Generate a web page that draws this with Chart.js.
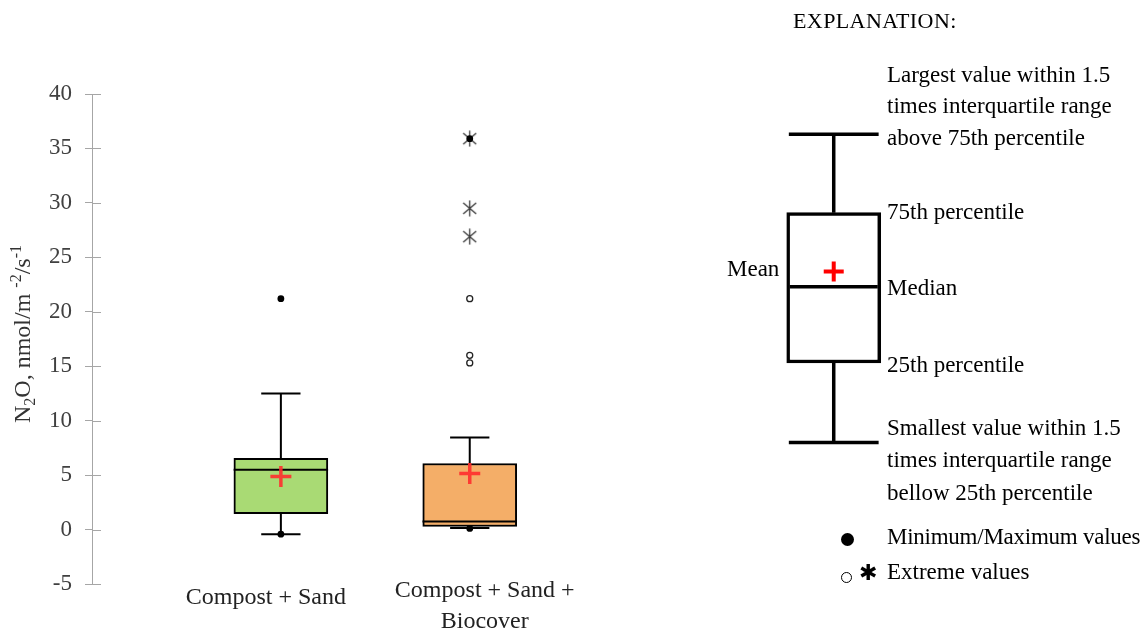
<!DOCTYPE html>
<html>
<head>
<meta charset="utf-8">
<script src="https://cdn.jsdelivr.net/npm/chart.js@4.4.1/dist/chart.umd.min.js"></script>
<style>
html,body{margin:0;padding:0;background:#fff;}
#wrap{position:relative;width:1143px;height:632px;overflow:hidden;background:#fff;font-family:"Liberation Serif","Times New Roman",serif;}
#main{position:absolute;left:0;top:0;width:700px;height:632px;}
#expl{position:absolute;left:700px;top:0;width:443px;height:632px;}
.t{position:absolute;white-space:nowrap;font-size:23px;line-height:31px;color:#000;}
.dot{position:absolute;border-radius:50%;box-sizing:border-box;}
</style>
</head>
<body>
<div id="wrap">
  <div id="main"><canvas id="c1"></canvas></div>
  <div id="expl"><canvas id="c2"></canvas></div>

  <div class="t" style="left:793px;top:5px;font-size:22px;letter-spacing:0.4px">EXPLANATION:</div>
  <div class="t" style="left:887px;top:59px">Largest value within 1.5</div>
  <div class="t" style="left:887px;top:90px">times interquartile range</div>
  <div class="t" style="left:887px;top:122px">above 75th percentile</div>
  <div class="t" style="left:887px;top:196px">75th percentile</div>
  <div class="t" style="left:727px;top:253px">Mean</div>
  <div class="t" style="left:887px;top:272px">Median</div>
  <div class="t" style="left:887px;top:349px">25th percentile</div>
  <div class="t" style="left:887px;top:412px">Smallest value within 1.5</div>
  <div class="t" style="left:887px;top:444px">times interquartile range</div>
  <div class="t" style="left:887px;top:477px">bellow 25th percentile</div>
  <div class="dot" style="left:841px;top:533px;width:13px;height:13px;background:#000"></div>
  <div class="t" style="left:887px;top:521px;letter-spacing:-0.25px">Minimum/Maximum values</div>
  <div class="dot" style="left:841px;top:572px;width:11px;height:11px;border:1.5px solid #000;background:#fff"></div>
  <div class="t" style="left:859px;top:557px;font-family:'DejaVu Sans';font-size:22px;line-height:31px">✱</div>
  <div class="t" style="left:887px;top:556px">Extreme values</div>
</div>

<script>
// ---------------- data ----------------
const categories = ['Compost + Sand', ['Compost + Sand +', 'Biocover']];
const catPos = [1, 2];
const q1 = [1.47, 0.28];
const median = [5.5, 0.74];
const q3 = [6.53, 6.07];
const whiskerLow = [-0.42, 0.15];
const whiskerHigh = [12.5, 8.46];
const means = [4.87, 5.15];
const minValues = [-0.42, 0.10];
const maxValues = [21.2, 35.9];
const extremeCircles = [[], [21.2, 16.0, 15.3]];
const extremeStars = [[], [35.9, 29.5, 26.9]];
const boxColors = ['#a9da74', '#f4ae68'];
const yMin = -5, yMax = 40, yStep = 5;
// explanation schematic: [low whisker, q1, median, q3, high whisker], mean
const explStats = [8.0, 15.3, 22.3, 29.1, 36.3];
const explMean = 23.7;

// ---------------- style constants ----------------
Chart.defaults.font.family = "'Liberation Serif', 'Times New Roman', serif";
const HALF_BOX = 0.25;
const LABEL_SHIFT_PX = [-15, 15];   // category label offset from box centre, as in the original

function whiskerPoints(x, lo, lowQ, highQ, hi, halfCap) {
  return [
    {x, y: highQ}, {x, y: hi}, {x, y: null},
    {x: x - halfCap, y: hi}, {x: x + halfCap, y: hi}, {x, y: null},
    {x, y: lowQ}, {x, y: lo}, {x, y: null},
    {x: x - halfCap, y: lo}, {x: x + halfCap, y: lo}, {x, y: null}
  ];
}
function medianPoints(x, m) {
  return [{x: x - HALF_BOX, y: m}, {x: x + HALF_BOX, y: m}, {x, y: null}];
}
function makeAsterisk() {
  const w = 15, h = 17;
  const c = document.createElement('canvas');
  c.width = w; c.height = h;
  const g = c.getContext('2d');
  g.strokeStyle = '#3a3a3a'; g.lineWidth = 1.3;
  g.beginPath();
  g.moveTo(w / 2, 0.5); g.lineTo(w / 2, h - 0.5);
  g.moveTo(1, h * 0.18); g.lineTo(w - 1, h * 0.82);
  g.moveTo(1, h * 0.82); g.lineTo(w - 1, h * 0.18);
  g.stroke();
  return c;
}
const asterisk = makeAsterisk();

const whiskerData = [], medianData = [], meanData = [], minMaxData = [], circleData = [], starData = [], boxData = [];
catPos.forEach((x, i) => {
  boxData.push({x, y: [q1[i], q3[i]]});
  whiskerData.push(...whiskerPoints(x, whiskerLow[i], q1[i], q3[i], whiskerHigh[i], 0.104));
  medianData.push(...medianPoints(x, median[i]));
  meanData.push({x, y: means[i]});
  minMaxData.push({x, y: minValues[i]}, {x, y: maxValues[i]});
  extremeCircles[i].forEach(v => circleData.push({x, y: v}));
  extremeStars[i].forEach(v => starData.push({x, y: v}));
});

// ---------------- plugin: inner y ticks, category labels, y title ----------------
const axisDecor = {
  id: 'axisDecor',
  afterDraw(chart) {
    const {ctx, chartArea} = chart;
    const y = chart.scales.y, x = chart.scales.x;
    ctx.save();
    ctx.strokeStyle = '#a6a6a6';
    ctx.lineWidth = 1;
    y.ticks.forEach(t => {
      const py = Math.round(y.getPixelForValue(t.value)) + 0.5;
      ctx.beginPath();
      ctx.moveTo(chartArea.left, py);
      ctx.lineTo(chartArea.left + 9, py);
      ctx.stroke();
    });
    // category labels under the boxes
    ctx.font = "24px 'Liberation Serif'";
    ctx.fillStyle = '#222';
    ctx.textAlign = 'center';
    ctx.textBaseline = 'middle';
    catPos.forEach((v, i) => {
      const lines = [].concat(categories[i]);
      const px = x.getPixelForValue(v) + LABEL_SHIFT_PX[i];
      let cy = x.top + (lines.length === 1 ? 14 : 7);
      lines.forEach(l => { ctx.fillText(l, px, cy); cy += 31; });
    });
    // rotated axis title with sub/superscripts
    const big = "24px 'Liberation Serif'", small = "16px 'Liberation Serif'";
    const parts = [['N', 0, big], ['2', 5, small], ['O, nmol/m ', 0, big], ['-2', -9, small], ['/s', 0, big], ['-1', -9, small]];
    let total = 0;
    parts.forEach(p => { ctx.font = p[2]; p.push(ctx.measureText(p[0]).width); total += p[3]; });
    ctx.translate(22, 334);
    ctx.rotate(-Math.PI / 2);
    ctx.fillStyle = '#333';
    ctx.textAlign = 'left';
    ctx.textBaseline = 'alphabetic';
    let cx = -total / 2;
    parts.forEach(p => {
      ctx.font = p[2];
      ctx.fillText(p[0], cx, 8 + p[1]);
      cx += p[3];
    });
    ctx.restore();
  }
};

// ---------------- main chart ----------------
new Chart(document.getElementById('c1'), {
  type: 'bar',
  data: {
    datasets: [
      {type: 'bar', data: boxData, backgroundColor: boxColors, borderColor: '#000', borderWidth: 2,
       borderSkipped: false, barThickness: 94, order: 10},
      {type: 'line', data: whiskerData, borderColor: '#000', borderWidth: 2, pointRadius: 0,
       spanGaps: false, fill: false, tension: 0, order: 9},
      {type: 'line', data: medianData, borderColor: '#000', borderWidth: 2, pointRadius: 0,
       spanGaps: false, fill: false, tension: 0, order: 8},
      {type: 'scatter', data: starData, pointStyle: asterisk, pointRadius: 7, order: 4},
      {type: 'scatter', data: circleData, pointStyle: 'circle', pointRadius: 3, borderWidth: 1.3,
       borderColor: '#222', backgroundColor: '#fff', order: 3},
      {type: 'scatter', data: minMaxData, pointStyle: 'circle', pointRadius: 3.4, borderWidth: 0,
       backgroundColor: '#000', order: 2},
      {type: 'scatter', data: meanData, pointStyle: 'cross', pointRadius: 10.5, borderWidth: 3.5,
       borderColor: 'rgba(255,45,45,0.9)', order: 1}
    ]
  },
  options: {
    responsive: true,
    maintainAspectRatio: false,
    animation: false,
    events: [],
    layout: {padding: {top: 94, right: 0, bottom: 0, left: 0}},
    plugins: {legend: {display: false}, tooltip: {enabled: false}},
    scales: {
      x: {
        type: 'linear', min: 0, max: 3.145, offset: false,
        grid: {display: false, drawTicks: false},
        border: {display: false},
        afterBuildTicks: s => { s.ticks = catPos.map(v => ({value: v})); },
        afterFit: s => { s.height = 48; },
        ticks: {display: false}
      },
      y: {
        min: yMin, max: yMax,
        afterFit: s => { s.width = 92; },
        grid: {drawOnChartArea: false, color: '#a6a6a6', tickLength: 7},
        border: {color: '#a6a6a6', width: 1},
        ticks: {stepSize: yStep, padding: 13, color: '#404040', font: {size: 23}}
      }
    }
  },
  plugins: [axisDecor]
});

// ---------------- explanation schematic ----------------
const explX = 1;
new Chart(document.getElementById('c2'), {
  type: 'bar',
  data: {
    datasets: [
      {type: 'bar', data: [{x: explX, y: [explStats[1], explStats[3]]}], backgroundColor: '#fff',
       borderColor: '#000', borderWidth: 3.5, borderSkipped: false, barThickness: 94, order: 10},
      {type: 'line', data: whiskerPoints(explX, explStats[0], explStats[1], explStats[3], explStats[4], 0.255)
        .concat(medianPoints(explX, explStats[2])),
       borderColor: '#000', borderWidth: 3.5, pointRadius: 0, spanGaps: false, fill: false, tension: 0, order: 5},
      {type: 'scatter', data: [{x: explX, y: explMean}], pointStyle: 'cross', pointRadius: 10,
       borderWidth: 4, borderColor: '#ff0000', order: 1}
    ]
  },
  options: {
    responsive: true,
    maintainAspectRatio: false,
    animation: false,
    events: [],
    layout: {padding: {top: 94, right: 0, bottom: 48, left: 0}},
    plugins: {legend: {display: false}, tooltip: {enabled: false}},
    scales: {
      x: {type: 'linear', display: false, min: 0.32, max: 2.677, offset: false},
      y: {display: false, min: yMin, max: yMax}
    }
  }
});
</script>
</body>
</html>
